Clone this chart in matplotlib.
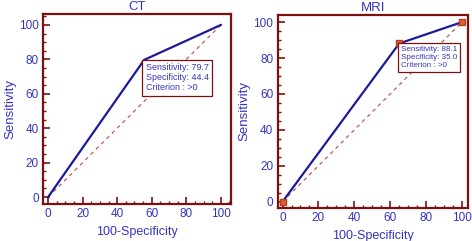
import matplotlib
matplotlib.use("Agg")
import matplotlib.pyplot as plt
from matplotlib.ticker import MultipleLocator

plt.rcParams['font.family'] = ['Liberation Sans', 'DejaVu Sans']

# ROC data
titles = ["CT", "MRI"]
fpr = [[0, 55.6, 100], [0, 65.0, 100]]     # 100-Specificity
tpr = [[0, 79.7, 100], [0, 88.1, 100]]     # Sensitivity
sens = ["79.7", "88.1"]
spec = ["44.4", "35.0"]
crit = [">0", ">0"]
show_markers = [False, True]

frame_c = "#7a1010"
text_c = "#3535c0"
line_c = "#1a1a9a"
diag_c = "#c05a50"

fig = plt.figure(figsize=(4.72, 2.41), dpi=100)
boxes = [[0.091, 0.154, 0.398, 0.788], [0.588, 0.137, 0.404, 0.801]]
xlims = [(-3, 105.8), (-2.8, 103.5)]
ylims = [(-4, 106.4), (-3.5, 104)]
seps = [" ", " "]
box_fs = [6.4, 5.8]

for i in range(2):
    ax = fig.add_axes(boxes[i])
    ax.plot([0, 100], [0, 100], ls=(0, (3, 3)), color=diag_c, lw=0.9)
    ax.plot(fpr[i], tpr[i], color=line_c, lw=1.6)
    if show_markers[i]:
        ax.plot(fpr[i], tpr[i], ls="none", marker="s", ms=4,
                mfc="#e06030", mec="#b04020")
    ax.set_xlim(*xlims[i])
    ax.set_ylim(*ylims[i])
    for s in ax.spines.values():
        s.set_color(frame_c)
        s.set_linewidth(1.6)
    ax.xaxis.set_major_locator(MultipleLocator(20))
    ax.yaxis.set_major_locator(MultipleLocator(20))
    ax.xaxis.set_minor_locator(MultipleLocator(5))
    ax.yaxis.set_minor_locator(MultipleLocator(5))
    ax.tick_params(which="major", direction="in", length=5, width=1.2,
                   color=frame_c, labelcolor=text_c, labelsize=8.5, pad=3)
    ax.tick_params(which="minor", direction="in", length=2.5, width=1,
                   color=frame_c)
    ax.set_title(titles[i], color=text_c, fontsize=9.5, pad=3)
    ax.set_xlabel("100-Specificity", color=text_c, fontsize=9, labelpad=4)
    ax.set_ylabel("Sensitivity", color=text_c, fontsize=9.5, labelpad=2)
    label = ("Sensitivity:" + seps[i] + sens[i] + "\n"
             "Specificity:" + seps[i] + spec[i] + "\n"
             "Criterion : " + crit[i])
    ax.annotate(label, xy=(fpr[i][1], tpr[i][1]), xytext=(1, -2),
                textcoords="offset points", ha="left", va="top",
                fontsize=box_fs[i], color=text_c, linespacing=1.2,
                bbox=dict(boxstyle="square,pad=0.35", fc="white",
                          ec=frame_c, lw=0.9))

fig.savefig("out.png", dpi=100)
